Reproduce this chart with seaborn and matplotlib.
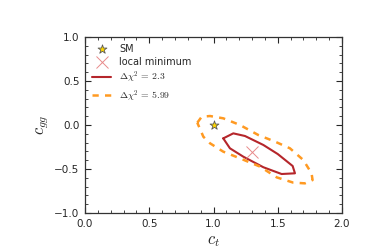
import matplotlib
matplotlib.use("Agg")
import matplotlib.pyplot as plt
import seaborn as sns
import pandas as pd
from matplotlib.ticker import MultipleLocator

sns.set_style("ticks")
plt.rcParams['font.family'] = ['DejaVu Sans']
plt.rcParams['mathtext.fontset'] = 'cm'

# 1-sigma contour (Delta chi^2 = 2.3)
c1_x = [1.076, 1.154, 1.245, 1.388, 1.50, 1.616, 1.634, 1.53, 1.388, 1.232, 1.128, 1.076]
c1_y = [-0.152, -0.095, -0.125, -0.227, -0.33, -0.466, -0.549, -0.557, -0.48, -0.36, -0.265, -0.152]

# 2-sigma contour (Delta chi^2 = 5.99)
c2_x = [0.874, 0.908, 0.973, 1.076, 1.206, 1.349, 1.479, 1.595, 1.699, 1.763, 1.771,
        1.712, 1.621, 1.492, 1.362, 1.206, 1.076, 0.973, 0.921, 0.874]
c2_y = [0.026, 0.094, 0.102, 0.076, 0.0, -0.114, -0.189, -0.265, -0.398, -0.549, -0.625,
        -0.663, -0.655, -0.595, -0.473, -0.379, -0.303, -0.208, -0.133, 0.026]

sm_x, sm_y = [1.0], [0.0]
min_x, min_y = [1.30], [-0.31]

fig = plt.figure(figsize=(3.82, 2.52), dpi=100)
ax = fig.add_axes([85/382, 1-213/252, (342-85)/382, (213-37)/252])

ax.scatter(sm_x, sm_y, marker='*', s=45, color='gold', edgecolor='0.35', linewidth=0.6,
           zorder=5, label='SM')
ax.scatter(min_x, min_y, marker='x', s=75, color='#e88a8a', linewidth=0.7,
           zorder=5, label='local minimum')
sns.lineplot(x=c1_x, y=c1_y, sort=False, estimator=None, ax=ax, color='#b5262b',
             linewidth=1.5, label=r'$\Delta\chi^2\, =\, 2.3$')
sns.lineplot(x=c2_x, y=c2_y, sort=False, estimator=None, ax=ax, color='#ff9a22',
             linewidth=1.8, linestyle=(0, (2.5, 2.5)), label=r'$\Delta\chi^2\, =\, 5.99$')

ax.set_xlim(0, 2)
ax.set_ylim(-1, 1)
ax.xaxis.set_major_locator(MultipleLocator(0.5))
ax.xaxis.set_minor_locator(MultipleLocator(0.1))
ax.yaxis.set_major_locator(MultipleLocator(0.5))
ax.yaxis.set_minor_locator(MultipleLocator(0.1))
ax.tick_params(which='both', direction='in', top=True, right=True, labelsize=7.5, pad=4)
ax.tick_params(which='major', length=4, width=0.8)
ax.tick_params(which='minor', length=2, width=0.6)
for s in ax.spines.values():
    s.set_linewidth(0.9)
    s.set_color('0.2')

ax.set_xlabel(r'$c_t$', fontsize=12, labelpad=2)
ax.set_ylabel(r'$c_{gg}$', fontsize=12, labelpad=2)

leg = ax.legend(loc='upper left', frameon=False, fontsize=7, handlelength=2.0,
                borderaxespad=0.3, labelspacing=0.3)

fig.savefig('out.png', dpi=100)
